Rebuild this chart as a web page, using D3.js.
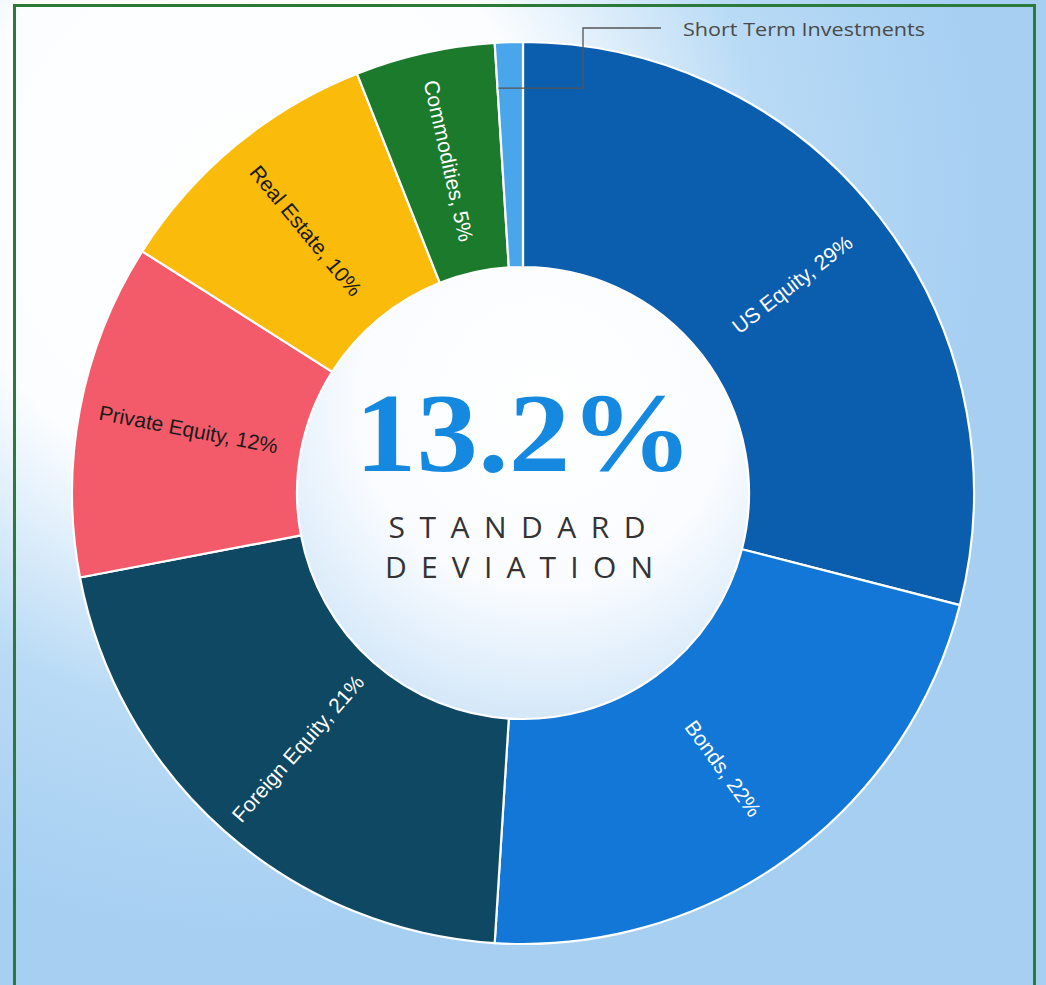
<!DOCTYPE html>
<html>
<head>
<meta charset="utf-8">
<script src="https://cdn.jsdelivr.net/npm/d3@7"></script>
<style>
  html, body { margin: 0; padding: 0; background: #ffffff; }
  svg { display: block; }
</style>
</head>
<body>
<svg id="chart" width="1046" height="985"></svg>
<script>
// ---- data ----
const categories = ["US Equity", "Bonds", "Foreign Equity", "Private Equity", "Real Estate", "Commodities", "Short Term Investments"];
const values = [29, 22, 21, 12, 10, 5, 1];
const sliceColors = ["#0b5dae", "#1277d6", "#0e4862", "#f45b6a", "#fbbb0b", "#1c7a2d", "#4aa6ea"];
const labelColors = ["#ffffff", "#ffffff", "#ffffff", "#1a1a1a", "#1a1a1a", "#ffffff", null];
const centerValue = "13.2%";
const centerCaption = ["STANDARD", "DEVIATION"];

const W = 1046, H = 985;
const cx = 523, cy = 493, R = 451, r = 226;

const svg = d3.select("#chart");
const defs = svg.append("defs");

// background gradient
const bg = defs.append("radialGradient").attr("id", "bg")
  .attr("gradientUnits", "userSpaceOnUse")
  .attr("cx", 250).attr("cy", 200).attr("r", 740);
bg.append("stop").attr("offset", "0").attr("stop-color", "#ffffff");
bg.append("stop").attr("offset", "0.4").attr("stop-color", "#fbfdff");
bg.append("stop").attr("offset", "0.7").attr("stop-color", "#b8daf5");
bg.append("stop").attr("offset", "1").attr("stop-color", "#a6cff2");

const hole = defs.append("radialGradient").attr("id", "hole")
  .attr("gradientUnits", "userSpaceOnUse")
  .attr("cx", 20).attr("cy", -90).attr("r", r + 110);
hole.append("stop").attr("offset", "0").attr("stop-color", "#ffffff");
hole.append("stop").attr("offset", "0.55").attr("stop-color", "#fafcff");
hole.append("stop").attr("offset", "1").attr("stop-color", "#cfe5f8");

svg.append("rect").attr("x", 0).attr("y", 0).attr("width", W).attr("height", H).attr("fill", "url(#bg)");

// frame
svg.append("rect").attr("x", 14.5).attr("y", 5.5).attr("width", 1020).attr("height", 1010)
  .attr("fill", "none").attr("stroke", "#2b7a3a").attr("stroke-width", 3);

const data = categories.map((c, i) => ({ name: c, value: values[i], color: sliceColors[i], lc: labelColors[i] }));

const pie = d3.pie().sort(null).value(d => d.value);
const arcs = pie(data);
const arc = d3.arc().innerRadius(r).outerRadius(R);

const g = svg.append("g").attr("transform", `translate(${cx},${cy})`);

// hole
g.append("circle").attr("r", r).attr("fill", "url(#hole)");

g.selectAll("path.slice").data(arcs).join("path")
  .attr("class", "slice")
  .attr("d", arc)
  .attr("fill", d => d.data.color)
  .attr("stroke", "#ffffff")
  .attr("stroke-width", 2.2)
  .attr("stroke-linejoin", "round");

// radial labels
const labelR = (r + R) / 2 + 2;
g.selectAll("text.lbl").data(arcs.filter(d => d.data.lc)).join("text")
  .attr("class", "lbl")
  .attr("transform", d => {
    const a = (d.startAngle + d.endAngle) / 2;
    const deg = a * 180 / Math.PI;
    const x = labelR * Math.sin(a), y = -labelR * Math.cos(a);
    const rot = deg < 180 ? deg - 90 : deg - 270;
    return `translate(${x},${y}) rotate(${rot})`;
  })
  .attr("text-anchor", "middle")
  .attr("dominant-baseline", "central")
  .attr("font-family", "'Liberation Sans', Arial, sans-serif")
  .attr("font-size", 21)
  .attr("fill", d => d.data.lc)
  .text(d => `${d.data.name}, ${d.data.value}%`);

// callout for the small slice
const st = arcs[arcs.length - 1];
const sa = (st.startAngle + st.endAngle) / 2;
const p0 = [cx + 405 * Math.sin(sa) - 12, cy - 405 * Math.cos(sa)];
svg.append("path")
  .attr("d", `M${p0[0]},${p0[1]} H583 V28 H661`)
  .attr("fill", "none").attr("stroke", "#555").attr("stroke-width", 1.3);
svg.append("text")
  .attr("x", 683).attr("y", 36)
  .attr("font-family", "'Open Sans', sans-serif")
  .attr("font-size", 19)
  .attr("textLength", 242).attr("lengthAdjust", "spacingAndGlyphs")
  .attr("fill", "#4a4a4a")
  .text(st.data.name);

// center texts
svg.append("text")
  .attr("x", cx + 1).attr("y", 471)
  .attr("text-anchor", "middle")
  .attr("font-family", "'Liberation Serif', 'DejaVu Serif', serif")
  .attr("font-weight", "bold")
  .attr("font-size", 112)
  .attr("textLength", 338).attr("lengthAdjust", "spacingAndGlyphs")
  .attr("fill", "#1589e0")
  .text(centerValue);

svg.selectAll("text.cap").data(centerCaption).join("text")
  .attr("class", "cap")
  .attr("x", (d, i) => i === 0 ? 517 : 519)
  .attr("y", (d, i) => 538 + i * 40)
  .attr("text-anchor", "middle")
  .attr("font-family", "'Open Sans', sans-serif")
  .attr("font-weight", 400)
  .attr("font-size", 30)
  .attr("textLength", (d, i) => i === 0 ? 257 : 268)
  .attr("lengthAdjust", "spacing")
  .attr("fill", "#333")
  .text(d => d);
</script>
</body>
</html>
